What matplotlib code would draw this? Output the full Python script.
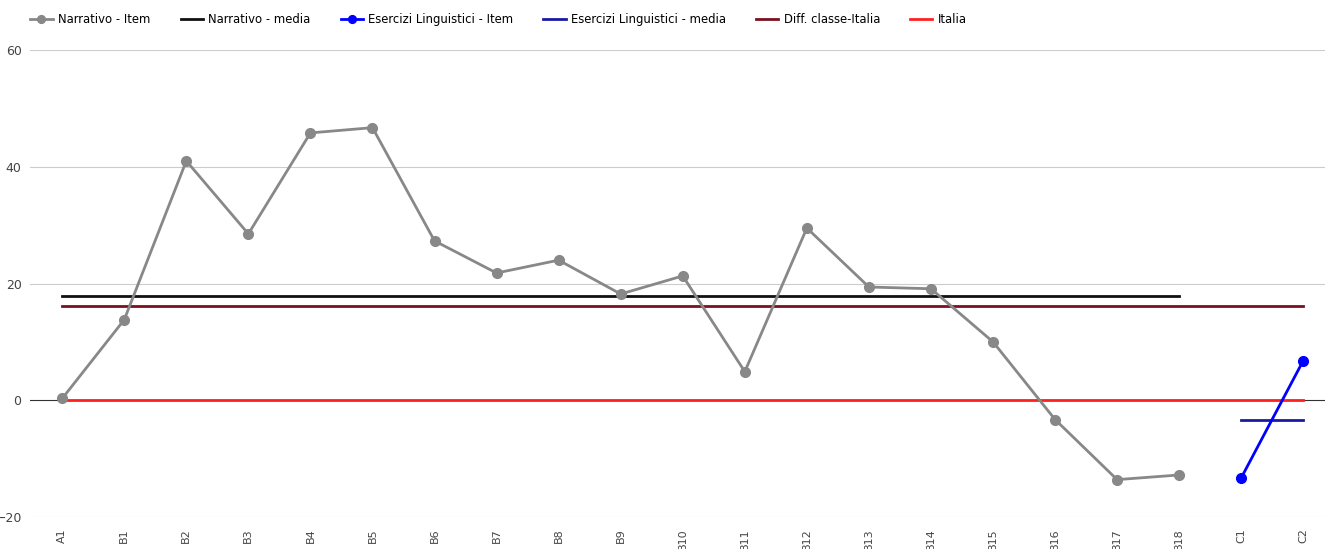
import numpy as np
import matplotlib.pyplot as plt

# ── Data ───────────────────────────────────────────────────────────────────────
items = ["A1", "B1", "B2", "B3", "B4", "B5", "B6", "B7", "B8", "B9", "B10",
         "B11", "B12", "B13", "B14", "B15", "B16", "B17", "B18", "C1", "C2"]
narr_items = ["A1", "B1", "B2", "B3", "B4", "B5", "B6", "B7", "B8", "B9", "B10",
              "B11", "B12", "B13", "B14", "B15", "B16", "B17", "B18"]
narr_vals = [0.3, 13.8, 41.0, 28.5, 45.8, 46.7, 27.3, 21.8, 24.0, 18.2, 21.3,
             4.9, 29.5, 19.4, 19.1, 10.0, -3.3, -13.6, -12.8]
narr_media = 17.9
ling_items = ["C1", "C2"]
ling_vals = [-13.3, 6.8]
ling_media = -3.3
diff_classe_italia = 16.2
italia = 0.0

yticks = [-20, 0, 20, 40, 60]

# ── Plot ───────────────────────────────────────────────────────────────────────
fig = plt.figure(figsize=(13.25, 5.49), dpi=100)
ax = fig.add_axes([0.0226, 0.0583, 0.9774, 0.8506])

x_all = np.arange(len(items))
idx = {k: i for i, k in enumerate(items)}
x_narr = [idx[k] for k in narr_items]
x_ling = [idx[k] for k in ling_items]

ax.axhline(0, color="#333333", lw=0.8, zorder=1)
for y in yticks:
    if y != 0:
        ax.axhline(y, color="#cccccc", lw=0.8, zorder=0)

ax.plot(x_narr, narr_vals, color="#888888", lw=2.0, marker="o", ms=7,
        label="Narrativo - Item", zorder=4)
ax.plot([x_narr[0], x_narr[-1]], [narr_media, narr_media], color="#111111",
        lw=2.0, label="Narrativo - media", zorder=3)
ax.plot(x_ling, ling_vals, color="#0000ff", lw=2.0, marker="o", ms=7,
        label="Esercizi Linguistici - Item", zorder=4)
ax.plot([x_ling[0], x_ling[-1]], [ling_media, ling_media], color="#1a1aa6",
        lw=2.0, label="Esercizi Linguistici - media", zorder=3)
ax.plot([x_all[0], x_all[-1]], [diff_classe_italia] * 2, color="#7a1020",
        lw=2.0, label="Diff. classe-Italia", zorder=3)
ax.plot([x_all[0], x_all[-1]], [italia] * 2, color="#ff2020",
        lw=2.0, label="Italia", zorder=3)

ax.set_xlim(-0.52, 20.35)
ax.set_ylim(-20, 60)
ax.set_yticks(yticks)
ax.set_xticks(x_all)
ax.set_xticklabels(items, rotation=90, fontsize=8, color="#444444")
ax.tick_params(axis="y", labelsize=9, labelcolor="#444444", length=0, pad=6)
ax.tick_params(axis="x", length=0, pad=8)
for s in ax.spines.values():
    s.set_visible(False)

fig.legend(loc="upper left", bbox_to_anchor=(0.015, 0.995), ncol=6,
           frameon=False, fontsize=8.4, handlelength=1.9, handletextpad=0.5,
           columnspacing=2.55, markerscale=0.8)
fig.text(0.025, 1.012, "410064060203", fontsize=9, fontweight="bold",
         color="#222222", va="center")

fig.savefig("out.png", dpi=100)
